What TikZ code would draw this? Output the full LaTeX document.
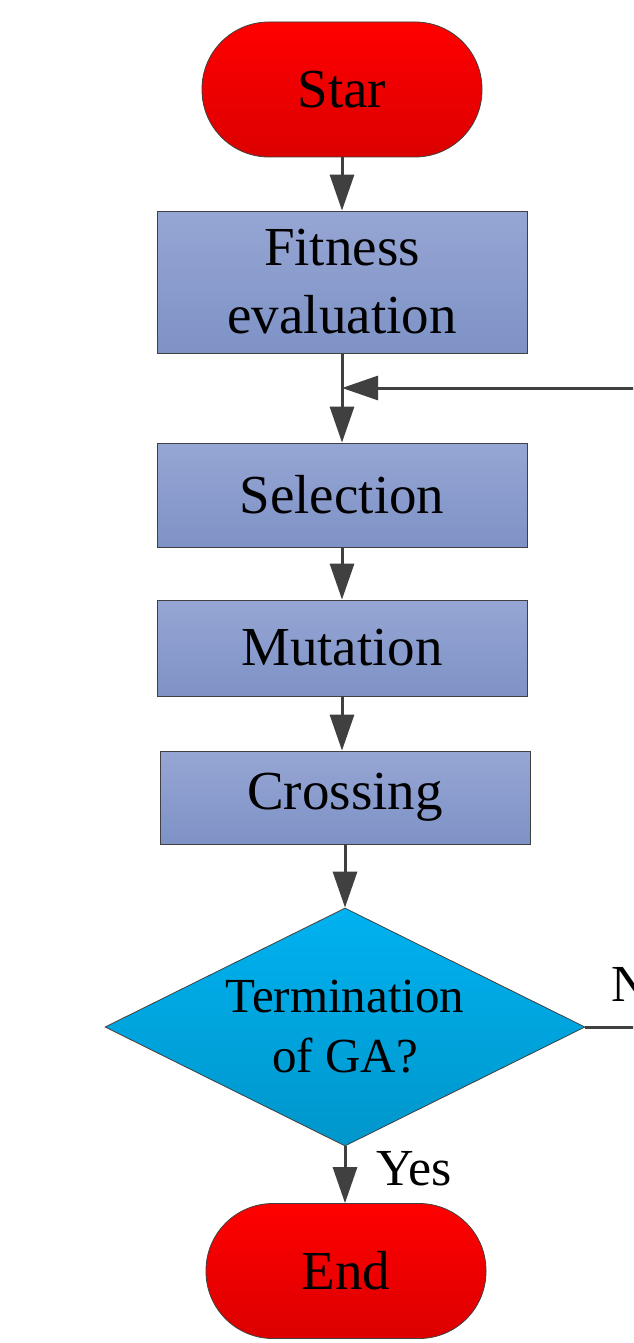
\documentclass[tikz,border=0pt]{standalone}
\usepackage{fontspec}
\setmainfont{Liberation Serif}
\usetikzlibrary{arrows.meta,shapes.geometric}
\definecolor{lineg}{HTML}{404040}
\definecolor{redtop}{HTML}{FF0000}
\definecolor{redbot}{HTML}{DC0000}
\definecolor{boxtop}{HTML}{96A6D4}
\definecolor{boxbot}{HTML}{7E92C6}
\definecolor{diatop}{HTML}{00B2F0}
\definecolor{diabot}{HTML}{0096CB}
\tikzset{
  term/.style={draw=lineg, line width=0.8pt, top color=redtop, bottom color=redbot,
    minimum width=280pt, minimum height=135pt, rounded corners=67pt, inner sep=0pt,
    font=\fontsize{55}{68}\selectfont},
  procbox/.style={draw=lineg, line width=0.8pt, top color=boxtop, bottom color=boxbot,
    minimum width=370pt, inner sep=0pt, align=center,
    font=\fontsize{55}{68}\selectfont},
  decis/.style={draw=lineg, line width=0.8pt, shape=diamond, top color=diatop, bottom color=diabot,
    minimum width=480pt, minimum height=238pt, aspect=2.02, inner sep=0pt, align=center,
    font=\fontsize{49}{60}\selectfont},
  arr/.style={draw=lineg, line width=3pt, -{Triangle[length=36pt,width=24pt]}},
  plain/.style={draw=lineg, line width=3pt},
  lbl/.style={inner sep=0pt, font=\fontsize{52}{62}\selectfont}
}
\begin{document}
\begin{tikzpicture}[x=1pt,y=-1pt]
\clip (0,0) rectangle (633,1343);
\useasboundingbox (0,0) rectangle (633,1343);
\fill[white] (0,0) rectangle (633,1343);
\node[term] (star) at (342,89.5) {Star};
\node[procbox, minimum height=142pt] (fit) at (342,282) {Fitness\\evaluation};
\node[procbox, minimum height=104pt] (sel) at (342,495) {Selection};
\node[procbox, minimum height=96pt] (mut) at (342,648) {Mutation};
\node[procbox, minimum height=93pt] (cross) at (345,797.5) {Crossing};
\node[decis] (dia) at (345,1027) {Termination\\of GA?};
\node[term] (end) at (346,1271) {End};
\coordinate (fbR) at (640,388);
\coordinate (noR) at (640,1027);
\draw[arr] (star.south) -- (star.south |- fit.north);
\draw[arr] (fit.south) -- (fit.south |- sel.north);
\draw[arr] (fbR) -- (fit.south |- fbR);
\draw[arr] (sel.south) -- (sel.south |- mut.north);
\draw[arr] (mut.south) -- (mut.south |- cross.north);
\draw[arr] (cross.south) -- (cross.south |- dia.north);
\draw[arr] (dia.south) -- (dia.south |- end.north);
\draw[plain] (dia.east) -- (noR);
\node[lbl, anchor=base west] (yes) at (376,1185) {Yes};
\node[lbl, anchor=base west] (no) at (611,1001) {No};
\end{tikzpicture}
\end{document}
